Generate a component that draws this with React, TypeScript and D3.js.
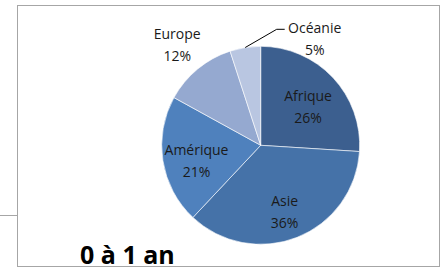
import React, { useEffect, useRef } from 'react';
import * as d3 from 'd3';

const regions = ['Afrique', 'Asie', 'Amérique', 'Europe', 'Océanie'];
const shares = [26, 36, 21, 12, 5];
const colors = ['#3c5f8f', '#4572a8', '#4f81bd', '#95a9d0', '#b9c6e1'];
const title = '0 à 1 an';

const App: React.FC = () => {
  const svgRef = useRef<SVGSVGElement>(null);

  useEffect(() => {
    if (!svgRef.current) return;
    const svg = d3.select(svgRef.current);
    svg.selectAll('*').remove();

    const cx = 260.7;
    const cy = 145.3;
    const radius = 99;
    const font = "'Open Sans', 'Liberation Sans', sans-serif";

    // frame around the chart
    svg
      .append('rect')
      .attr('x', 17.5)
      .attr('y', 5.5)
      .attr('width', 422)
      .attr('height', 261)
      .attr('fill', 'white')
      .attr('stroke', '#a6a6a6');
    svg
      .append('line')
      .attr('x1', 0)
      .attr('x2', 17)
      .attr('y1', 215.5)
      .attr('y2', 215.5)
      .attr('stroke', '#a6a6a6');

    const data = regions.map((name, i) => ({ name, value: shares[i], color: colors[i] }));
    const pie = d3
      .pie<{ name: string; value: number; color: string }>()
      .sort(null)
      .value((d) => d.value);
    const arcs = pie(data);
    const arc = d3.arc<d3.PieArcDatum<any>>().innerRadius(0).outerRadius(radius);

    const g = svg.append('g').attr('transform', `translate(${cx},${cy})`);

    g.selectAll('path.slice')
      .data(arcs)
      .enter()
      .append('path')
      .attr('class', 'slice')
      .attr('d', arc as any)
      .attr('fill', (d) => d.data.color)
      .attr('stroke', 'white')
      .attr('stroke-width', 0.6);

    const inner = d3.arc<d3.PieArcDatum<any>>().innerRadius(0).outerRadius(130);
    const outer = d3.arc<d3.PieArcDatum<any>>().innerRadius(131).outerRadius(131);

    arcs.forEach((d) => {
      let x: number;
      let y: number;
      if (d.data.name === 'Europe') {
        [x, y] = outer.centroid(d);
        y += 1;
      } else if (d.data.name === 'Océanie') {
        const mid = (d.startAngle + d.endAngle) / 2;
        const sx = Math.sin(mid) * radius;
        const sy = -Math.cos(mid) * radius;
        const ex = 16;
        const ey = -116;
        g.append('polyline')
          .attr('points', `${sx},${sy} ${ex},${ey} ${ex + 8},${ey}`)
          .attr('fill', 'none')
          .attr('stroke', 'black')
          .attr('stroke-width', 1);
        x = ex + 38;
        y = ey + 10;
      } else {
        [x, y] = inner.centroid(d);
        y += 6;
      }
      const t = g
        .append('text')
        .attr('text-anchor', 'middle')
        .attr('font-family', font)
        .attr('font-size', 14)
        .attr('fill', '#1a1a1a');
      t.append('tspan').attr('x', x).attr('y', y - 6).text(d.data.name);
      t.append('tspan')
        .attr('x', x)
        .attr('y', y + 16)
        .text(`${d.data.value}%`);
    });

    svg
      .append('text')
      .attr('x', 80)
      .attr('y', 264)
      .attr('font-family', font)
      .attr('font-weight', 'bold')
      .attr('font-size', 25)
      .attr('fill', 'black')
      .text(title);
  }, []);

  return (
    <svg
      ref={svgRef}
      width={442}
      height={277}
      style={{ position: 'absolute', left: 0, top: 0 }}
    />
  );
};

export default App;
